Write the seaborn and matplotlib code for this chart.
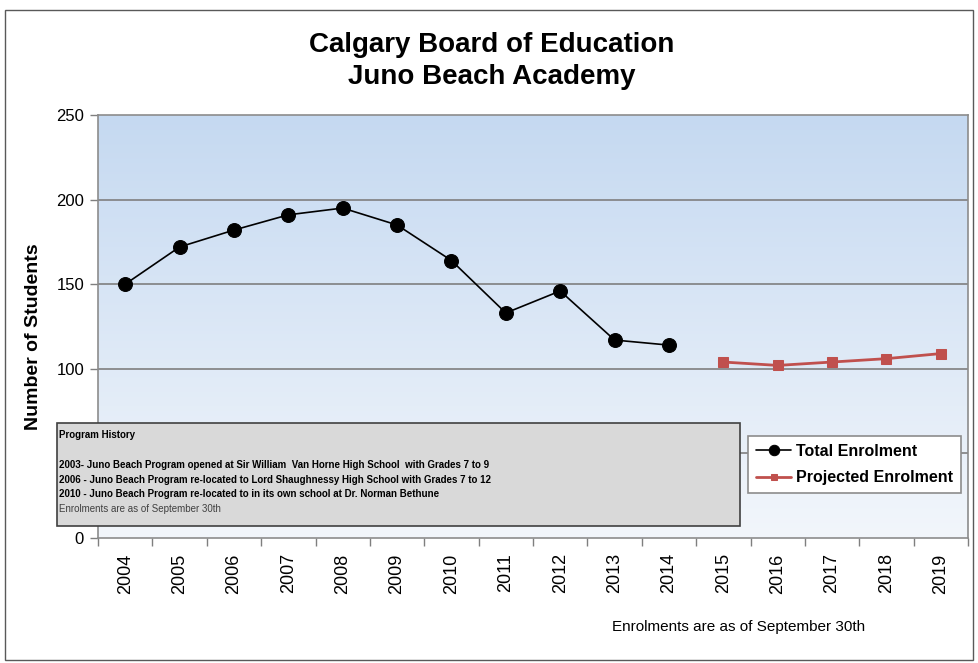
import numpy as np
import pandas as pd
import matplotlib
matplotlib.use("Agg")
import matplotlib.pyplot as plt
import seaborn as sns
from matplotlib.patches import Rectangle
from matplotlib.ticker import FixedLocator

# ---- data ----
actual_years = [2004, 2005, 2006, 2007, 2008, 2009, 2010, 2011, 2012, 2013, 2014]
actual_values = [150, 172, 182, 191, 195, 185, 164, 133, 146, 117, 114]
proj_years = [2015, 2016, 2017, 2018, 2019]
proj_values = [104, 102, 104, 106, 109]
all_years = actual_years + proj_years
y_ticks = [0, 50, 100, 150, 200, 250]
y_tick_labels = ["0", "", "100", "150", "200", "250"]  # 50 is hidden behind the history box

title_lines = ["Calgary Board of Education", "Juno Beach Academy"]
history_lines = [
    "2003- Juno Beach Program opened at Sir William  Van Horne High School  with Grades 7 to 9",
    "2006 - Juno Beach Program re-located to Lord Shaughnessy High School with Grades 7 to 12",
    "2010 - Juno Beach Program re-located to in its own school at Dr. Norman Bethune",
]
note = "Enrolments are as of September 30th"

sns.set_theme(style="white")
plt.rcParams['font.family'] = ['Liberation Sans', 'DejaVu Sans']
for k in ["text.color", "axes.labelcolor", "xtick.color", "ytick.color"]:
    plt.rcParams[k] = "black"

W, H = 979, 663
fig = plt.figure(figsize=(W / 100, H / 100), dpi=100)
fig.patch.set_facecolor("white")

# outer border
fig.add_artist(Rectangle((5 / W, 1 - 660 / H), 968 / W, 650 / H, transform=fig.transFigure,
                         fill=False, edgecolor="#595959", linewidth=1.0))

ax = fig.add_axes([98 / W, 1 - 538 / H, 870 / W, 423 / H])

# gradient background
grad = np.linspace(0, 1, 256).reshape(-1, 1)
top = np.array([197, 217, 241]) / 255
bot = np.array([242, 246, 251]) / 255
img = top[None, None, :] * (1 - grad[:, :, None]) + bot[None, None, :] * grad[:, :, None]
ax.imshow(img, extent=[0, 1, 0, 1], transform=ax.transAxes, aspect="auto", zorder=0)

df_a = pd.DataFrame({"Year": actual_years, "Students": actual_values})
df_p = pd.DataFrame({"Year": proj_years, "Students": proj_values})

sns.lineplot(data=df_a, x="Year", y="Students", ax=ax, color="black", linewidth=1.2,
             marker="o", markersize=10, markeredgecolor="black", label="Total Enrolment", zorder=3)
sns.lineplot(data=df_p, x="Year", y="Students", ax=ax, color="#c0504d", linewidth=2,
             marker="s", markersize=6.5, markeredgecolor="#c0504d", label="Projected Enrolment", zorder=3)

ax.set_xlim(all_years[0] - 0.5, all_years[-1] + 0.5)
ax.set_ylim(0, 250)
ax.set_yticks(y_ticks)
ax.set_yticklabels(y_tick_labels)
for yv in y_ticks[1:-1]:
    ax.axhline(yv, color="#7f7f7f", linewidth=1.2, zorder=1)

ax.set_xticks(all_years)
ax.set_xticklabels([str(y) for y in all_years], rotation=90, fontsize=13)
ax.xaxis.set_minor_locator(FixedLocator([y - 0.5 for y in all_years] + [all_years[-1] + 0.5]))
ax.tick_params(axis="x", which="major", length=0, pad=11)
ax.tick_params(axis="x", which="minor", length=6, width=1, color="#7f7f7f", direction="out", bottom=True)
ax.tick_params(axis="y", which="major", length=6, width=1, color="#7f7f7f", direction="out", left=True,
               labelsize=12, pad=4)
ax.set_xlabel("")
ax.set_ylabel("Number of Students", fontsize=14, fontweight="bold")
ax.yaxis.set_label_coords(-0.064, 0.475)
for s in ax.spines.values():
    s.set_color("#8c8c8c")
    s.set_linewidth(1.2)

leg = ax.legend(loc="upper left", bbox_to_anchor=((748 - 98) / 870, 1 - (436 - 115) / 423),
                frameon=True, fancybox=False, edgecolor="#8c8c8c", framealpha=1,
                prop={"weight": "bold", "size": 11.5}, handlelength=2.2, borderpad=0.5,
                labelspacing=0.7, handletextpad=0.3, borderaxespad=0, markerscale=0.75)
leg.get_frame().set_linewidth(1.2)
leg.set_zorder(5)

# titles
fig.text(492 / W, 1 - 45 / H, title_lines[0], ha="center", va="center", fontsize=20, fontweight="bold")
fig.text(492 / W, 1 - 77 / H, title_lines[1], ha="center", va="center", fontsize=20, fontweight="bold")

# program history box
fig.add_artist(Rectangle((57 / W, 1 - 526 / H), 683 / W, 103 / H, transform=fig.transFigure,
                         facecolor="#d9d9d9", edgecolor="#404040", linewidth=1.2, zorder=6))
fig.text(59 / W, 1 - 435 / H, "Program History", ha="left", va="center", fontsize=7,
         fontweight="bold", zorder=7)
for i, line in enumerate(history_lines):
    fig.text(59 / W, 1 - (465 + 14.7 * i) / H, line, ha="left", va="center", fontsize=7,
             fontweight="bold", zorder=7)
fig.text(59 / W, 1 - 509 / H, note, ha="left", va="center", fontsize=7, color="#404040", zorder=7)

fig.text(612 / W, 1 - 627 / H, note, ha="left", va="center", fontsize=11)

fig.savefig("out.png", dpi=100)
